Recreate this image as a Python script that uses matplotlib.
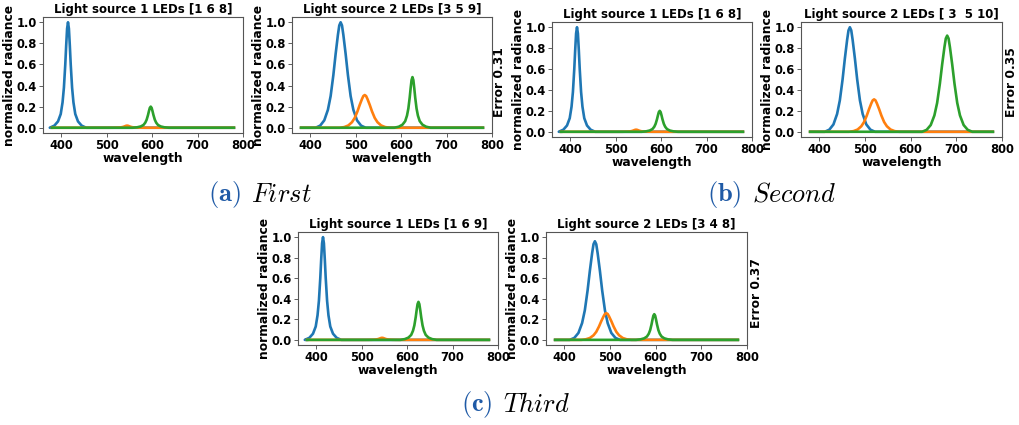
import matplotlib
matplotlib.use('Agg')
import numpy as np
import matplotlib.pyplot as plt

plt.rcParams.update({
    'font.family': 'DejaVu Sans',
    'font.weight': 'bold',
    'mathtext.fontset': 'cm',
})

# LED spectra: peak profiles (offset from peak in nm, relative value)
narrow_dx = [-40, -30, -22, -16, -12, -9, -6, -4, -2, 0, 2, 4, 6, 9, 12, 16, 22, 30, 40]
narrow_shape = [0.0, 0.02, 0.06, 0.13, 0.24, 0.38, 0.6, 0.78, 0.94, 1.0,
                0.94, 0.78, 0.6, 0.38, 0.24, 0.13, 0.06, 0.02, 0.0]
wide_dx = [-55, -45, -36, -28, -22, -16, -11, -6, -3, 0, 3, 6, 11, 16, 22, 28, 36, 45, 55]
wide_shape = [0.0, 0.02, 0.07, 0.17, 0.3, 0.5, 0.7, 0.88, 0.97, 1.0,
              0.97, 0.88, 0.7, 0.5, 0.3, 0.17, 0.07, 0.02, 0.0]
wl_min, wl_max = 380, 780

panel_titles = ['Light source 1 LEDs [1 6 8]', 'Light source 2 LEDs [3 5 9]',
                'Light source 1 LEDs [1 6 8]', 'Light source 2 LEDs [ 3  5 10]',
                'Light source 1 LEDs [1 6 9]', 'Light source 2 LEDs [3 4 8]']
panel_centers = [[415, 545, 597], [467, 520, 625],
                 [415, 545, 597], [467, 520, 680],
                 [415, 545, 625], [467, 492, 597]]
panel_heights = [[1.0, 0.02, 0.2], [1.0, 0.31, 0.48],
                 [1.0, 0.02, 0.2], [1.0, 0.31, 0.92],
                 [1.0, 0.02, 0.37], [0.96, 0.26, 0.25]]
panel_kinds = [['n', 'n', 'n'], ['w', 'w', 'n'],
               ['n', 'n', 'n'], ['w', 'w', 'w'],
               ['n', 'n', 'n'], ['w', 'w', 'n']]
errors = [0.31, 0.35, 0.37]
captions = [('(a)', 'First'), ('(b)', 'Second'), ('(c)', 'Third')]

colors = ['#1f77b4', '#ff7f0e', '#2ca02c']
cap_blue = '#1f5aa6'

W, H = 1020, 425
# axes boxes in pixels: left, top, right, bottom
boxes = [(43, 17, 243, 133), (292, 17, 492, 133),
         (552, 22, 752, 137), (801, 22, 1002, 137),
         (298, 232, 498, 345), (546, 232, 747, 345)]
err_pos = [(500, 82), (1012, 82), (756, 293)]
cap_pos = [(246, 195), (747, 195), (498, 405)]

fig = plt.figure(figsize=(W / 100, H / 100), dpi=100)

for i, (l, t, r, b) in enumerate(boxes):
    ax = fig.add_axes([l / W, 1 - b / H, (r - l) / W, (b - t) / H])
    for c, h, k, col in zip(panel_centers[i], panel_heights[i], panel_kinds[i], colors):
        dx, shape = (narrow_dx, narrow_shape) if k == 'n' else (wide_dx, wide_shape)
        x = [wl_min] + [c + d for d in dx] + [wl_max]
        y = [0.0] + [h * s for s in shape] + [0.0]
        ax.plot(x, y, color=col, linewidth=1.9, solid_joinstyle='round')
    ax.set_xticks([400, 500, 600, 700, 800])
    ax.set_yticks([0.0, 0.2, 0.4, 0.6, 0.8, 1.0])
    ax.set_xlim(360, 800)
    ax.set_ylim(-0.05, 1.05)
    ax.tick_params(labelsize=8.3, length=3, width=0.6, pad=1.5, color='#444444')
    for lab in ax.get_xticklabels() + ax.get_yticklabels():
        lab.set_fontweight('bold')
    for sp in ax.spines.values():
        sp.set_color('#555555')
        sp.set_linewidth(0.8)
    ax.set_title(panel_titles[i], fontsize=8.5, fontweight='bold', pad=3)
    ax.set_xlabel('wavelength', fontsize=8.8, fontweight='bold', labelpad=0)
    ax.set_ylabel('normalized radiance', fontsize=8.8, fontweight='bold', labelpad=0)

for e, (x, y) in zip(errors, err_pos):
    fig.text(x / W, 1 - y / H, 'Error %.2f' % e, rotation=90, fontsize=8.8,
             fontweight='bold', ha='center', va='center')

for (tag, word), (x, y) in zip(captions, cap_pos):
    fig.text(x / W - 0.005, 1 - y / H, r'$\mathbf{%s}$' % tag, color=cap_blue,
             fontsize=19, ha='right', va='center')
    fig.text(x / W + 0.005, 1 - y / H, r'$\mathit{%s}$' % word, color='black',
             fontsize=19, ha='left', va='center')

fig.savefig('out.png', dpi=100, facecolor='white')
